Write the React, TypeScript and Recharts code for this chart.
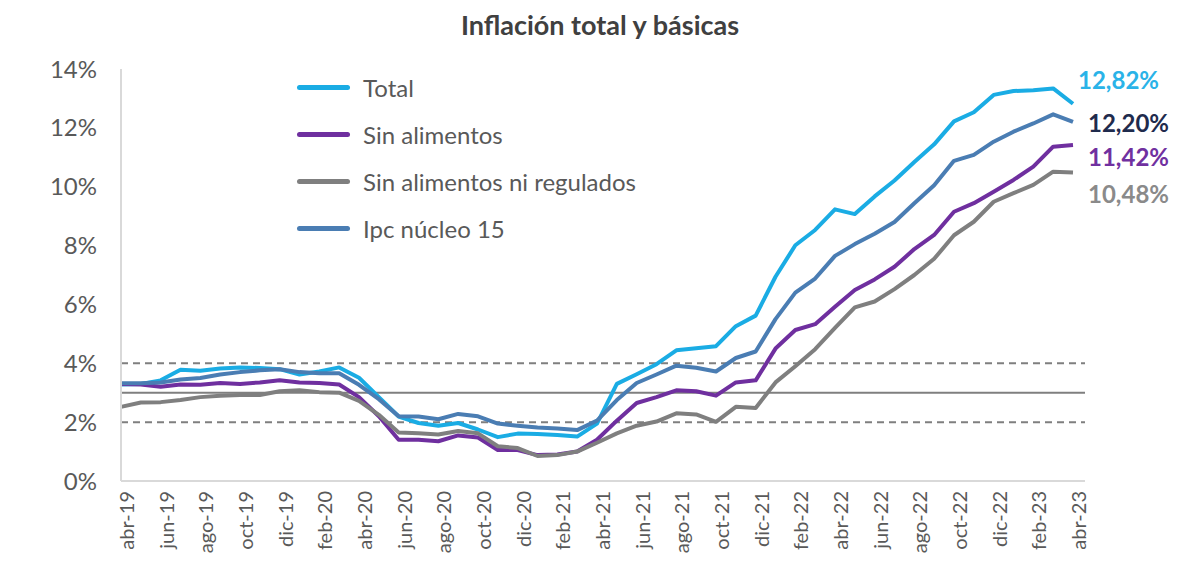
import React from 'react';
import { LineChart, Line, XAxis, YAxis, ReferenceLine, Legend, LabelList } from 'recharts';

// Monthly annual inflation, abr-19 .. abr-23
const months = [
  'abr-19', 'may-19', 'jun-19', 'jul-19', 'ago-19', 'sep-19', 'oct-19', 'nov-19', 'dic-19',
  'ene-20', 'feb-20', 'mar-20', 'abr-20', 'may-20', 'jun-20', 'jul-20', 'ago-20', 'sep-20',
  'oct-20', 'nov-20', 'dic-20', 'ene-21', 'feb-21', 'mar-21', 'abr-21', 'may-21', 'jun-21',
  'jul-21', 'ago-21', 'sep-21', 'oct-21', 'nov-21', 'dic-21', 'ene-22', 'feb-22', 'mar-22',
  'abr-22', 'may-22', 'jun-22', 'jul-22', 'ago-22', 'sep-22', 'oct-22', 'nov-22', 'dic-22',
  'ene-23', 'feb-23', 'mar-23', 'abr-23',
];

const total = [
  3.28, 3.3, 3.42, 3.78, 3.75, 3.82, 3.86, 3.84, 3.8,
  3.62, 3.72, 3.86, 3.51, 2.85, 2.19, 1.97, 1.88, 1.97,
  1.75, 1.49, 1.61, 1.6, 1.56, 1.51, 1.95, 3.3, 3.63,
  3.97, 4.44, 4.51, 4.58, 5.26, 5.62, 6.94, 8.01, 8.53,
  9.23, 9.07, 9.67, 10.21, 10.84, 11.44, 12.22, 12.53, 13.12,
  13.25, 13.28, 13.34, 12.82,
];

const sinAlimentos = [
  3.3, 3.28, 3.2, 3.28, 3.27, 3.33, 3.3, 3.35, 3.42,
  3.35, 3.33, 3.28, 2.85, 2.2, 1.4, 1.4, 1.35, 1.55,
  1.48, 1.05, 1.05, 0.88, 0.9, 1.0, 1.4, 2.05, 2.65,
  2.85, 3.08, 3.05, 2.9, 3.35, 3.42, 4.5, 5.13, 5.33,
  5.92, 6.49, 6.85, 7.28, 7.88, 8.36, 9.15, 9.44, 9.83,
  10.23, 10.68, 11.36, 11.42,
];

const sinAlimentosNiRegulados = [
  2.52, 2.67, 2.68, 2.75, 2.85, 2.9, 2.92, 2.92, 3.05,
  3.08, 3.02, 3.0, 2.72, 2.25, 1.65, 1.62, 1.58, 1.7,
  1.62, 1.18, 1.12, 0.85, 0.88, 1.0, 1.3, 1.62, 1.88,
  2.02, 2.3, 2.26, 2.01, 2.52, 2.48, 3.35, 3.9, 4.48,
  5.2, 5.9, 6.1, 6.52, 7.0, 7.55, 8.35, 8.81, 9.49,
  9.78, 10.06, 10.51, 10.48,
];

const nucleo15 = [
  3.32, 3.32, 3.35, 3.45, 3.5, 3.62, 3.7, 3.76, 3.8,
  3.7, 3.66, 3.66, 3.27, 2.78, 2.2, 2.19, 2.1, 2.28,
  2.2, 1.95, 1.88, 1.82, 1.78, 1.73, 2.05, 2.75, 3.33,
  3.62, 3.92, 3.85, 3.72, 4.18, 4.4, 5.5, 6.4, 6.88,
  7.65, 8.05, 8.4, 8.8, 9.44, 10.05, 10.88, 11.08, 11.53,
  11.87, 12.15, 12.46, 12.2,
];

const yTicks = [0, 2, 4, 6, 8, 10, 12, 14];
const rangoMeta = [2, 4];
const meta = 3;

const data = months.map((mes, i) => ({
  mes,
  total: total[i],
  sinAlimentos: sinAlimentos[i],
  sinAlimentosNiRegulados: sinAlimentosNiRegulados[i],
  nucleo15: nucleo15[i],
}));

const series = [
  { key: 'total', name: 'Total', color: '#1aace4', labelColor: '#2ab3e8', dx: 5, dy: -23 },
  { key: 'sinAlimentos', name: 'Sin alimentos', color: '#6f2f9f', labelColor: '#7030a0', dx: 15, dy: 13 },
  { key: 'sinAlimentosNiRegulados', name: 'Sin alimentos ni regulados', color: '#7f7f7f', labelColor: '#8a8a8a', dx: 15, dy: 22 },
  { key: 'nucleo15', name: 'Ipc núcleo 15', color: '#4a7db3', labelColor: '#1f2b4d', dx: 15, dy: 2 },
];

const FONT = 'Lato, "Open Sans", sans-serif';
const LAST = months.length - 1;

const pct = (v: number) => `${v.toFixed(2).replace('.', ',')}%`;

function MonthTick({ x, y, payload }: any) {
  return (
    <text
      x={x}
      y={y}
      transform={`rotate(-90, ${x}, ${y})`}
      textAnchor="end"
      dy={13}
      fill="#595959"
      fontSize={20}
      fontFamily={FONT}
    >
      {payload.value}
    </text>
  );
}

function endLabel(color: string, dx: number, dy: number) {
  return (props: any) => {
    const { x, y, value, index } = props;
    if (index !== LAST) return <g />;
    return (
      <text x={x + dx} y={y + dy} dy="0.35em" fill={color} fontSize={24} fontWeight={700} fontFamily={FONT}>
        {pct(value)}
      </text>
    );
  };
}

function LegendBox() {
  return (
    <div style={{ fontFamily: FONT }}>
      {series.map((s) => (
        <div key={s.key} style={{ display: 'flex', alignItems: 'center', height: 47 }}>
          <span style={{ width: 53, height: 5, borderRadius: 3, background: s.color, marginRight: 13 }} />
          <span style={{ fontSize: 24, color: '#595959' }}>{s.name}</span>
        </div>
      ))}
    </div>
  );
}

export default function App() {
  return (
    <div style={{ position: 'absolute', left: 0, top: 0, width: 1190, height: 566, background: '#fff', fontFamily: FONT }}>
      <div
        style={{
          position: 'absolute', left: 0, top: 8, width: 1200, textAlign: 'center',
          fontSize: 27, fontWeight: 700, color: '#404040',
        }}
      >
        Inflación total y básicas
      </div>
      <LineChart width={1190} height={566} data={data} margin={{ top: 69, right: 105, bottom: 5, left: 61 }}>
        <XAxis
          dataKey="mes"
          interval={1}
          height={80}
          tickSize={0}
          tickMargin={10}
          tick={<MonthTick />}
          padding={{ left: 0, right: 12 }}
          stroke="#d9d9d9"
          strokeWidth={2}
        />
        <YAxis
          domain={[0, 14]}
          ticks={yTicks}
          width={60}
          tickSize={0}
          tickMargin={24}
          tickFormatter={(v) => `${v}%`}
          tick={{ fill: '#595959', fontSize: 24, fontFamily: FONT }}
          stroke="#d9d9d9"
          strokeWidth={2}
        />
        {rangoMeta.map((v) => (
          <ReferenceLine key={v} y={v} stroke="#7f7f7f" strokeWidth={2} strokeDasharray="7 5" />
        ))}
        <ReferenceLine y={meta} stroke="#7f7f7f" strokeWidth={2} />
        <Legend
          layout="vertical"
          align="center"
          verticalAlign="middle"
          content={<LegendBox />}
          wrapperStyle={{ left: 297, top: 64, width: 430 }}
        />
        {series.map((s) => (
          <Line
            key={s.key}
            type="linear"
            dataKey={s.key}
            name={s.name}
            stroke={s.color}
            strokeWidth={4}
            strokeLinejoin="round"
            dot={false}
            activeDot={false}
            isAnimationActive={false}
          >
            <LabelList dataKey={s.key} content={endLabel(s.labelColor, s.dx, s.dy)} />
          </Line>
        ))}
      </LineChart>
    </div>
  );
}
